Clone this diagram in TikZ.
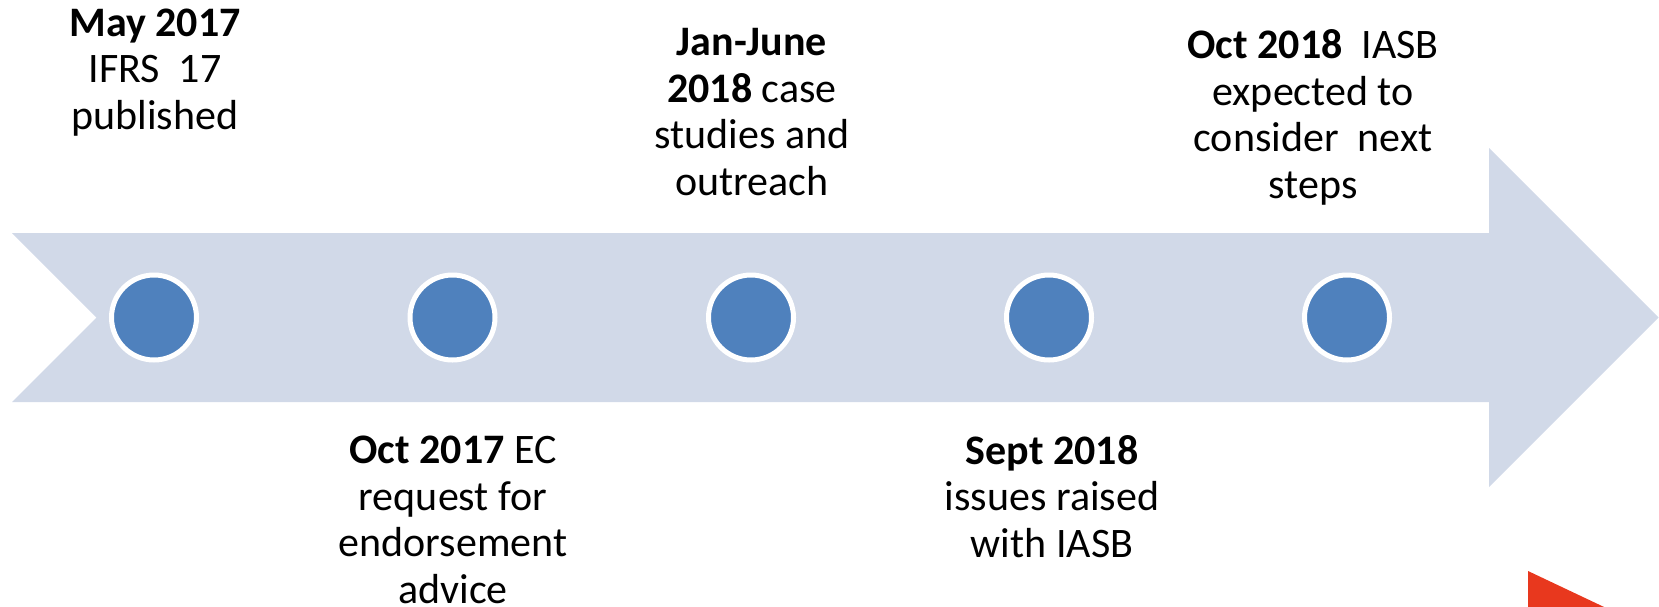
\documentclass[tikz,border=0pt]{standalone}
\usepackage{fontspec}
\setmainfont{Carlito}
\definecolor{shaftblue}{RGB}{209,217,232}
\definecolor{dotblue}{RGB}{79,129,189}
\definecolor{flagred}{RGB}{232,56,30}
\begin{document}
\begin{tikzpicture}[x=1pt,y=-1pt]
\tikzset{dot/.style={circle, fill=dotblue, draw=white, line width=5pt, inner sep=0pt, minimum size=85pt},
  evtext/.style={align=center, anchor=base, inner sep=0pt, font=\fontsize{42}{46.5}\selectfont}}
\useasboundingbox (0,0) rectangle (1659,606);
\fill[shaftblue] (12,233) -- (1489,233) -- (1489,148) -- (1658.5,317.5) -- (1489,487) -- (1489,402) -- (12,402) -- (96.5,317.5) -- cycle;
\node[dot] (d1) at (154,317.5) {};
\node[dot] (d2) at (452.5,317.5) {};
\node[dot] (d3) at (751,317.5) {};
\node[dot] (d4) at (1049,317.5) {};
\node[dot] (d5) at (1347,317.5) {};
% anchor=base sits on the last line
\node[evtext] (may17) at (155,129) {\textbf{May 2017}\\IFRS~~17\\published};
\node[evtext] (oct17) at (453,603) {\textbf{Oct 2017} EC\\request for\\endorsement\\advice};
\node[evtext] (jan18) at (752,195) {\textbf{Jan-June}\\\textbf{2018} case\\studies and\\outreach};
\node[evtext] (sep18) at (1052,557) {\textbf{Sept 2018}\\issues raised\\with IASB};
\node[evtext] (oct18) at (1313,198) {\textbf{Oct 2018}~~IASB\\expected to\\consider~~next\\steps};
\begin{scope}
\clip (0,0) rectangle (1659,606);
\fill[flagred] (1528,571) -- (1640,624) -- (1528,677) -- cycle;
\end{scope}
\end{tikzpicture}
\end{document}
